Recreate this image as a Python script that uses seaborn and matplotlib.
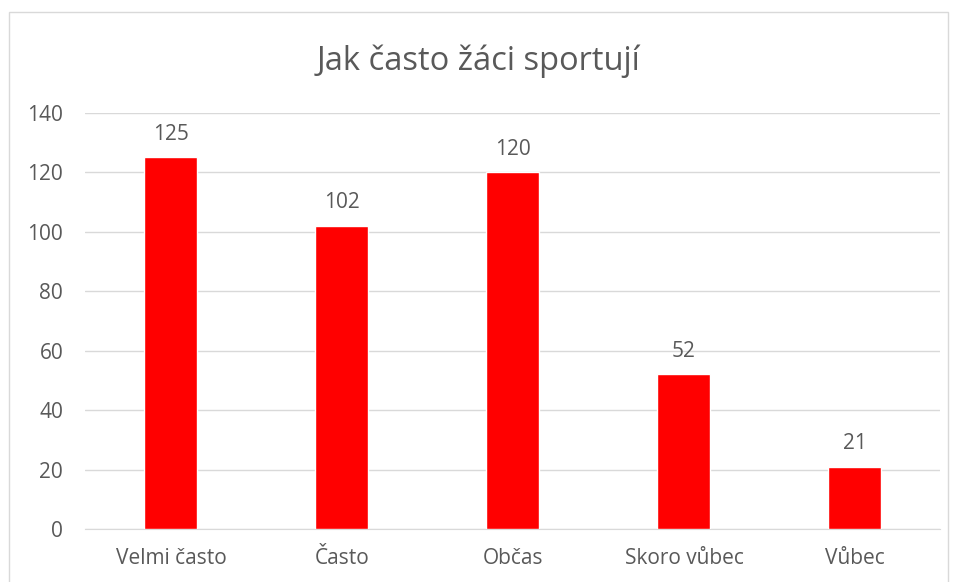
import pandas as pd
import matplotlib.pyplot as plt
import seaborn as sns
from matplotlib.patches import Rectangle

categories = ['Velmi často', 'Často', 'Občas', 'Skoro vůbec', 'Vůbec']
counts = [125, 102, 120, 52, 21]
title = 'Jak často žáci sportují'

sns.set_style("white")
plt.rcParams['font.family'] = ['Open Sans', 'DejaVu Sans']
text_color = '#595959'
grid_color = '#d9d9d9'

df = pd.DataFrame({'kategorie': categories, 'pocet': counts})

fig = plt.figure(figsize=(9.57, 5.82), dpi=100)
ax = fig.add_axes([0.0893, 0.091, 0.8934, 0.715])

sns.barplot(data=df, x='kategorie', y='pocet', color='#ff0000',
            width=0.31, saturation=1, ax=ax, zorder=3)

ax.set_ylim(0, 140)
ax.set_yticks(range(0, 141, 20))
ax.yaxis.grid(True, color=grid_color, linewidth=1, zorder=0)
ax.set_axisbelow(True)
for s in ['top', 'right', 'left']:
    ax.spines[s].set_visible(False)
ax.spines['bottom'].set_color(grid_color)
ax.tick_params(axis='both', length=0, colors=text_color, labelsize=15)
ax.tick_params(axis='y', pad=16)
ax.tick_params(axis='x', pad=14)
ax.set_xlabel('')
ax.set_ylabel('')

for p, v in zip(ax.patches, counts):
    ax.annotate(str(v), (p.get_x() + p.get_width() / 2, v),
                xytext=(0, 9), textcoords='offset points',
                ha='center', va='bottom', fontsize=15, color=text_color)

fig.text(0.5, 0.895, title, ha='center', va='center',
         fontsize=23.5, color=text_color)

fig.patches.append(Rectangle((0.009, -0.02), 0.982, 1.0, transform=fig.transFigure,
                             fill=False, edgecolor='#d9d9d9', linewidth=1))

fig.savefig('out.png', dpi=100)
